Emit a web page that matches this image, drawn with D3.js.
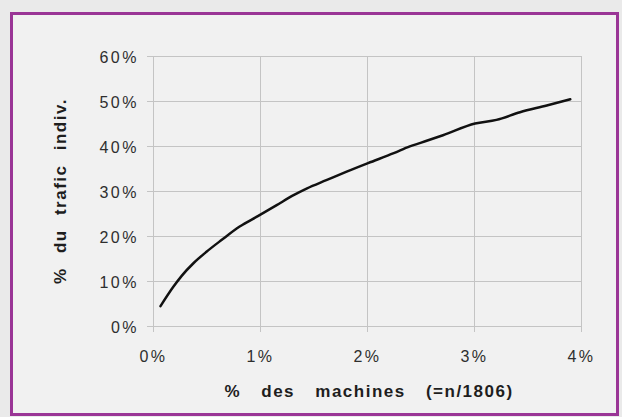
<!DOCTYPE html>
<html>
  <head>
    <meta charset="utf-8" />
    <style>
      body { margin: 0; background: #eaeaea; }
      svg { display: block; font-family: "Liberation Sans", Arial, sans-serif; }
    </style>
  </head>
  <body>
    <svg id="chart"></svg>

    <script src="https://d3js.org/d3.v7.min.js"></script>
    <script>
      // % des machines (x) et % du trafic (y)
      const machines = [0.07, 0.19, 0.27, 0.38, 0.50, 0.64, 0.81, 0.98, 1.16, 1.30, 1.44, 1.62,
        1.81, 2.01, 2.25, 2.40, 2.50, 2.71, 3.01, 3.21, 3.43, 3.68, 3.90];
      const trafic = [4.4, 8.7, 11.2, 14.0, 16.5, 19.1, 22.1, 24.4, 26.9, 28.9, 30.6, 32.4,
        34.3, 36.2, 38.4, 39.9, 40.7, 42.4, 45.0, 45.8, 47.5, 49.0, 50.4];

      const xTicks = [0, 1, 2, 3, 4];
      const yTicks = [0, 10, 20, 30, 40, 50, 60];
      const xTitle = "% des machines (=n/1806)";
      const yTitle = "% du trafic indiv.";

      const width = 622;
      const height = 417;
      const plotL = 153, plotR = 581, plotT = 56, plotB = 326;

      const svg = d3.select("#chart").attr("width", width).attr("height", height);

      // cadre violet
      svg.append("rect")
        .attr("x", 11.5).attr("y", 13.5)
        .attr("width", 606).attr("height", 401)
        .attr("fill", "#f1f1f1")
        .attr("stroke", "#9a3596")
        .attr("stroke-width", 3);

      const x = d3.scaleLinear().domain([0, 4]).range([plotL, plotR]);
      const y = d3.scaleLinear().domain([0, 60]).range([plotB, plotT]);

      // grille horizontale + graduations
      const gy = svg.append("g")
        .attr("transform", `translate(${plotL - 6},0)`)
        .call(d3.axisLeft(y).tickValues(yTicks)
          .tickSizeInner(-(plotR - plotL + 6)).tickSizeOuter(0)
          .tickPadding(8).tickFormat(d => d + "%"));

      // grille verticale + graduations
      const gx = svg.append("g")
        .attr("transform", `translate(0,${plotB + 6})`)
        .call(d3.axisBottom(x).tickValues(xTicks)
          .tickSizeInner(-(plotB - plotT + 6)).tickSizeOuter(0)
          .tickPadding(19).tickFormat(d => d + "%"));

      [gx, gy].forEach(g => {
        g.select(".domain").remove();
        g.selectAll(".tick line").attr("stroke", "#c4c4c4").attr("stroke-width", 1);
        g.selectAll(".tick text")
          .attr("fill", "#2e2e2e")
          .style("font-size", "16px")
          .style("letter-spacing", "2.5px");
      });
      gy.selectAll(".tick text").attr("dy", "0.42em");

      const data = machines.map((m, i) => ({ m, t: trafic[i] }));

      svg.append("path")
        .datum(data)
        .attr("fill", "none")
        .attr("stroke", "#111")
        .attr("stroke-width", 2.5)
        .attr("stroke-linejoin", "round")
        .attr("stroke-linecap", "round")
        .attr("d", d3.line().x(d => x(d.m)).y(d => y(d.t)).curve(d3.curveMonotoneX));

      svg.append("text")
        .attr("x", (plotL + plotR) / 2 + 2)
        .attr("y", 397)
        .attr("text-anchor", "middle")
        .attr("fill", "#1e1e1e")
        .style("font-size", "17px")
        .style("font-weight", "bold")
        .style("letter-spacing", "1.5px")
        .style("word-spacing", "14px")
        .text(xTitle);

      svg.append("text")
        .attr("transform", `translate(66,${(plotT + plotB) / 2}) rotate(-90)`)
        .attr("text-anchor", "middle")
        .attr("fill", "#1e1e1e")
        .style("font-size", "17px")
        .style("font-weight", "bold")
        .style("letter-spacing", "1.5px")
        .style("word-spacing", "8px")
        .text(yTitle);
    </script>
  </body>
</html>
